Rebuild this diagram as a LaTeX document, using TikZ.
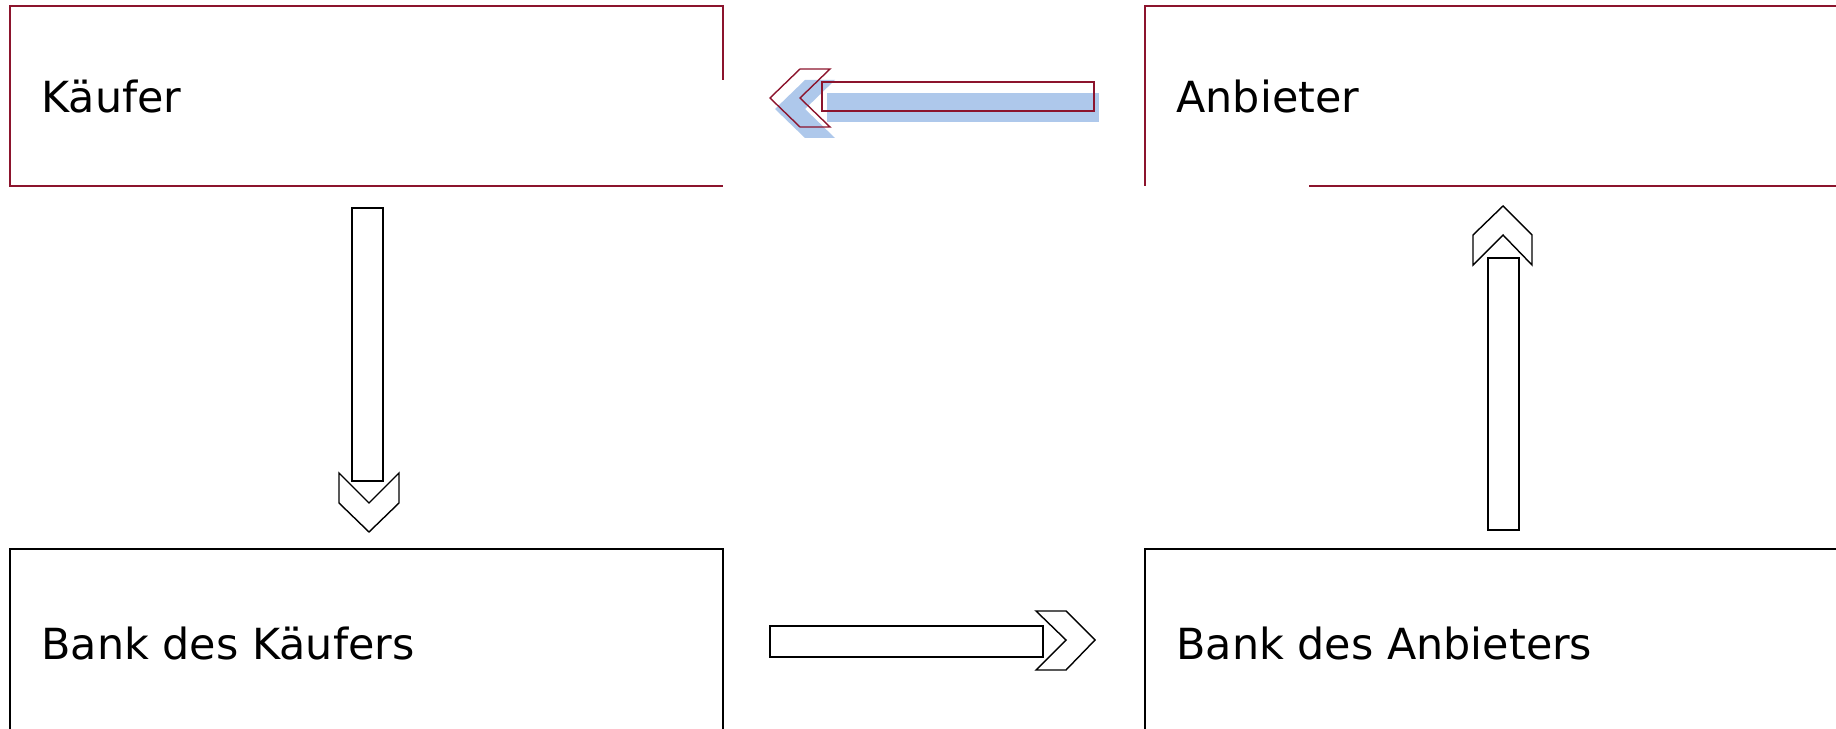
\documentclass[tikz,border=0pt]{standalone}
\usepackage{fontspec}
\setmainfont{DejaVu Sans}
\usepackage{tikz}
\usetikzlibrary{positioning}
\definecolor{weinrot}{RGB}{140,20,45}
\definecolor{schatten}{RGB}{174,200,235}
\tikzstyle{rahmen} = [line width=1pt]
\tikzstyle{pfeil} = [line width=0.8pt,line join=miter]
\tikzstyle{beschriftung} = [anchor=base west,inner sep=0pt,font=\fontsize{24.4}{29}\selectfont]

\begin{document}
\begin{tikzpicture}[x=0.02cm,y=-0.02cm]
\useasboundingbox (0,0) rectangle (1836,729);
\clip (0,0) rectangle (1836,729);
% Kaeufer
\draw[rahmen,weinrot] (723,80)--(723,6)--(10,6)--(10,186)--(723,186);
\node[beschriftung] (kaeufer) at (41,113) {Käufer};
% Anbieter
\draw[rahmen,weinrot] (1850,6)--(1145,6)--(1145,186);
\draw[rahmen,weinrot] (1309,186)--(1850,186);
\node[beschriftung] (anbieter) at (1176,113) {Anbieter};
% Banken
\draw[rahmen] (10,740)--(10,549)--(723,549)--(723,740);
\node[beschriftung] (bankK) at (41,659) {Bank des Käufers};
\draw[rahmen] (1145,740)--(1145,549)--(1850,549);
\node[beschriftung] (bankA) at (1176,659) {Bank des Anbieters};
% Pfeil Anbieter -> Kaeufer (mit Schatten)
\fill[schatten,shift={(5,11)}] (822,82) rectangle (1094,111);
\fill[schatten,shift={(5,11)}] (770,98)--(800,69)--(830,69)--(800,98)--(830,127)--(800,127)--cycle;
\draw[pfeil,weinrot] (822,82) rectangle (1094,111);
\draw[pfeil,weinrot] (770,98)--(800,69)--(830,69)--(800,98)--(830,127)--(800,127)--cycle;
% Pfeil Kaeufer -> Bank des Kaeufers
\draw[pfeil] (352,208) rectangle (383,481);
\draw[pfeil] (339,473)--(369,503)--(399,473)--(399,503)--(369,532)--(339,503)--cycle;
% Pfeil Bank des Kaeufers -> Bank des Anbieters
\draw[pfeil] (770,626) rectangle (1043,657);
\draw[pfeil] (1036,611)--(1066,611)--(1095,640)--(1066,670)--(1036,670)--(1066,640)--cycle;
% Pfeil Bank des Anbieters -> Anbieter
\draw[pfeil] (1488,258) rectangle (1519,530);
\draw[pfeil] (1473,265)--(1503,235)--(1532,265)--(1532,235)--(1503,206)--(1473,235)--cycle;
\end{tikzpicture}
\end{document}
